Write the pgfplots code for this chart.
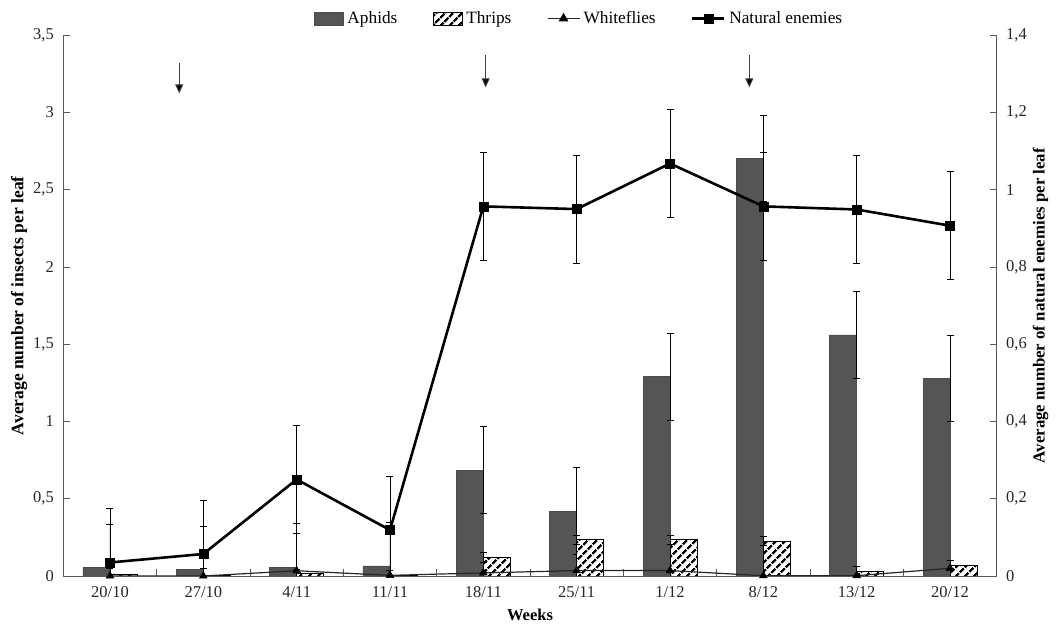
\documentclass[border=0pt]{standalone}
\usepackage{pgfplots}
\pgfplotsset{compat=1.18}
\usepackage{fontspec}
\setmainfont{Liberation Serif}
\usetikzlibrary{patterns.meta,arrows.meta}
\definecolor{aph}{HTML}{555555}
\definecolor{axc}{HTML}{5A5A5A}
\pgfplotsset{
  boxlegend/.style={legend image code/.code={\draw[##1] (0pt,-6.5pt) rectangle (29pt,6.5pt);}},
  linelegend/.style={legend image code/.code={\draw[mark repeat=2,mark phase=2,##1] plot coordinates {(0pt,0pt) (16pt,0pt) (32pt,0pt)};}},
  base/.style={
    scale only axis, width=933.4pt, height=540.7pt,
    xmin=-0.5, xmax=9.5,
    axis line style={axc, line width=0.9pt},
    tick style={axc, line width=0.9pt},
    tick align=inside,
    major tick length=7pt, minor tick length=7pt,
    ticklabel style={font=\fontsize{16.5}{19}\selectfont, text=black!85},
    label style={font=\bfseries\fontsize{17.5}{20}\selectfont},
    clip=true,
  },
}
\begin{document}
\fontsize{16}{19}\selectfont
\begin{tikzpicture}[x=1pt,y=1pt]
\useasboundingbox (-63.3,-55) rectangle (993.7,576);
\begin{axis}[base,
  ymin=0, ymax=3.5,
  axis x line*=bottom, axis y line*=left,
  ytick={0,0.5,...,3.5},
  yticklabels={0,{0,5},1,{1,5},2,{2,5},3,{3,5}},
  xtick={0,...,9},
  xticklabels={20/10,27/10,4/11,11/11,18/11,25/11,1/12,8/12,13/12,20/12},
  minor xtick={0.5,1.5,...,8.5},
  major x tick style={draw=none},
  xticklabel style={yshift=-5pt},
  yticklabel style={xshift=-4pt},
  xlabel={Weeks},
  xlabel style={yshift=-1pt, font=\bfseries\fontsize{16.5}{19}\selectfont},
  ylabel={Average number of insects per leaf},
  ylabel style={yshift=-5pt},
  error bars/error bar style={black, line width=0.8pt},
  error bars/error mark options={black, line width=0.8pt, rotate=90, mark size=3.5pt},
]
% Aphids
\addplot[ybar, bar width=27pt, bar shift=-13.5pt, fill=aph, draw=black!70, line width=0.6pt,
  error bars/.cd, y dir=both, y explicit]
coordinates {
(0,0.056) +- (0,0.28)
(1,0.043) +- (0,0.28)
(2,0.058) +- (0,0.28)
(3,0.065) +- (0,0.28)
(4,0.686) +- (0,0.28)
(5,0.42) +- (0,0.28)
(6,1.29) +- (0,0.28)
(7,2.703) +- (0,0.28)
(8,1.56) +- (0,0.28)
(9,1.28) +- (0,0.28)
};
% Thrips
\addplot[ybar, bar width=27pt, bar shift=13.5pt, fill=white,
  postaction={pattern={Lines[angle=45,distance=6.5pt,line width=2.6pt]}},
  draw=black, line width=0.8pt,
  error bars/.cd, y dir=both, y explicit]
coordinates {
(0,0.013) +- (0,0.035)
(1,0.006) +- (0,0.04)
(2,0.015) +- (0,0.03)
(3,0.004) +- (0,0.035)
(4,0.12) +- (0,0.03)
(5,0.235) +- (0,0.03)
(6,0.235) +- (0,0.03)
(7,0.225) +- (0,0.03)
(8,0.03) +- (0,0.03)
(9,0.07) +- (0,0.03)
};
% Whiteflies
\addplot[black!85, line width=1.2pt, mark=triangle*, mark size=4.5pt, mark options={black, line width=0.5pt}]
coordinates {
(0,0) (1,0) (2,0.034) (3,0.004) (4,0.02) (5,0.035) (6,0.035) (7,0.002) (8,0.002) (9,0.05)
};
% arrows
\draw[black!75, line width=0.9pt, -{Triangle[length=9pt,width=8pt,fill=black]}] (axis cs:0.742,3.322) -- (axis cs:0.742,3.124);
\draw[black!75, line width=0.9pt, -{Triangle[length=9pt,width=8pt,fill=black]}] (axis cs:4.025,3.372) -- (axis cs:4.025,3.163);
\draw[black!75, line width=0.9pt, -{Triangle[length=9pt,width=8pt,fill=black]}] (axis cs:6.85,3.372) -- (axis cs:6.85,3.163);
\end{axis}
\begin{axis}[base,
  ymin=0, ymax=1.4,
  axis x line=none, axis y line*=right,
  ytick={0,0.2,...,1.4},
  yticklabels={0,{0,2},{0,4},{0,6},{0,8},1,{1,2},{1,4}},
  yticklabel style={xshift=4pt},
  ylabel={Average number of natural enemies per leaf},
  ylabel style={yshift=5pt, font=\bfseries\fontsize{16.8}{19}\selectfont},
  error bars/error bar style={black, line width=0.8pt},
  error bars/error mark options={black, line width=0.8pt, rotate=90, mark size=3.5pt},
  legend columns=4,
  legend style={draw=none, fill=none, at={(0.5536,1.031)}, anchor=center,
    font=\fontsize{17.3}{20}\selectfont,
    nodes={inner xsep=3.5pt},
    /tikz/every even column/.append style={column sep=32pt}},
  legend cell align=left,
]
\addlegendimage{boxlegend, fill=aph, draw=black!70, line width=0.6pt}
\addlegendentry{Aphids}
\addlegendimage{boxlegend, fill=white, draw=black, line width=0.8pt,
  postaction={pattern={Lines[angle=45,distance=6.5pt,line width=2.6pt]}}}
\addlegendentry{Thrips}
\addlegendimage{linelegend, black!85, line width=1.2pt, mark=triangle*, mark size=4.5pt, mark options={black}}
\addlegendentry{Whiteflies}
\addlegendimage{linelegend, black, line width=2.6pt, mark=square*, mark size=4.5pt, mark options={black, line width=0.5pt}}
\addlegendentry{Natural enemies}
% Natural enemies
\addplot[black, line width=2.6pt, mark=square*, mark size=4.5pt, mark options={black, line width=0.5pt},
  error bars/.cd, y dir=both, y explicit]
coordinates {
(0,0.035) +- (0,0.14)
(1,0.057) +- (0,0.14)
(2,0.25) +- (0,0.14)
(3,0.119) +- (0,0.14)
(4,0.957) +- (0,0.14)
(5,0.950) +- (0,0.14)
(6,1.068) +- (0,0.14)
(7,0.957) +- (0,0.14)
(8,0.949) +- (0,0.14)
(9,0.907) +- (0,0.14)
};
\end{axis}
\end{tikzpicture}
\end{document}
